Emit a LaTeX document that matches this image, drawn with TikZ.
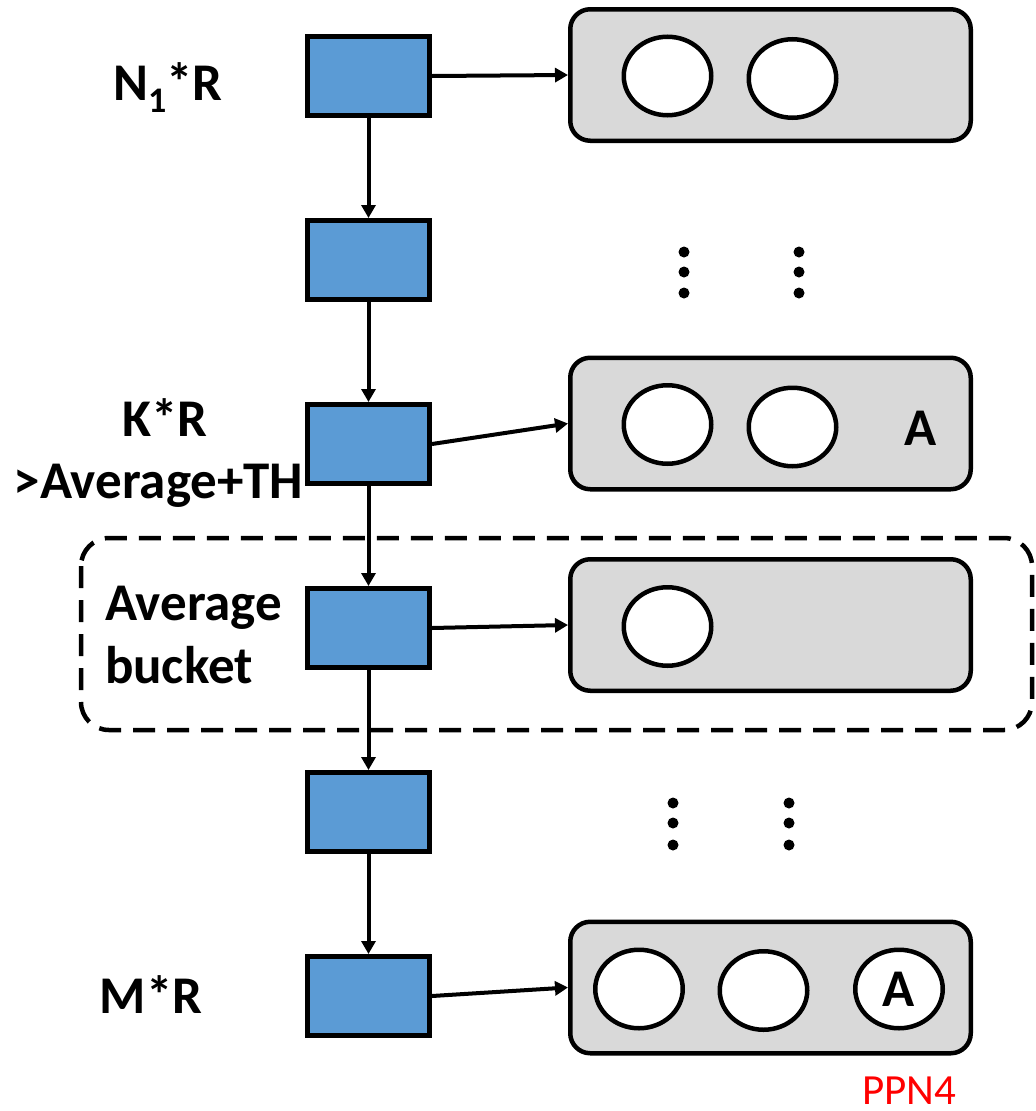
\documentclass[tikz,border=0pt]{standalone}
\usepackage{fontspec}
\setmainfont{Carlito}
\usetikzlibrary{arrows.meta,shapes.geometric,chains,positioning}
\definecolor{bucketblue}{HTML}{5B9BD5}
\definecolor{listgray}{HTML}{D9D9D9}
\tikzset{bucket/.style={draw, line width=5pt, fill=bucketblue, minimum width=122pt, minimum height=79pt, inner sep=0pt, on chain}, slot/.style={draw, line width=4.5pt, fill=listgray, rounded corners=20pt, minimum width=400.5pt, minimum height=131.5pt, inner sep=0pt}, entry/.style={ellipse, draw, line width=4.5pt, fill=white, minimum width=87.5pt, minimum height=78.5pt, inner sep=0pt, font=\fontsize{53}{60}\selectfont\bfseries}, lbl/.style={font=\fontsize{53}{63}\selectfont\bfseries, inner sep=0pt, anchor=base}, >={Triangle[length=13pt,width=14pt]}}

\begin{document}
\begin{tikzpicture}[x=1pt, y=1pt, line width=4pt, start chain=going below, node distance=100pt]
    \useasboundingbox[fill=white] (0,0) rectangle (1036,-1111);
    \node[bucket] (B1) at (368.5,-76) {};
    \node[bucket] (B2) {};
    \node[bucket] (B3) {};
    \node[bucket] (B4) {};
    \node[bucket] (B5) {};
    \node[bucket] (B6) {};
    \draw[line width=4.5pt, dash pattern=on 22pt off 12pt, rounded corners=28pt] (81,-538) rectangle (1032,-730);
    \node[slot] (S1) at (770.5,-75) {};
    \node[slot] (S3) at (770.5,-423.5) {};
    \node[slot] (S4) at (770.5,-625) {};
    \node[slot] (S6) at (770.5,-987.5) {};
    \node[entry] (E11) at (667.5,-76) {};
    \node[entry] (E12) at (792.5,-78.5) {};
    \node[entry] (E31) at (667.5,-424.5) {};
    \node[entry] (E32) at (792.5,-427) {};
    \node[lbl] (A3) at (921,-445) {A};
    \node[entry] (E41) at (667.5,-626.5) {};
    \node[entry] (E61) at (639,-989) {};
    \node[entry] (E62) at (763.5,-990.5) {};
    \node[entry] (E63) at (899,-989) {A};
    \fill (684,-252) circle (5.5) (684,-272) circle (5.5) (684,-293) circle (5.5);
    \fill (799,-252) circle (5.5) (799,-272) circle (5.5) (799,-293) circle (5.5);
    \fill (673,-803) circle (5.5) (673,-823) circle (5.5) (673,-845) circle (5.5);
    \fill (789,-803) circle (5.5) (789,-823) circle (5.5) (789,-845) circle (5.5);
    \draw[->] (B1) -- (B2);
    \draw[->] (B2) -- (B3);
    \draw[->] (B3) -- (B4);
    \draw[->] (B4) -- (B5);
    \draw[->] (B5) -- (B6);
    \draw[->] (B1.east) -- (S1.west);
    \draw[->] (B3.east) -- (S3.west);
    \draw[->] (B4.east) -- (S4.west);
    \draw[->] (B6.east) -- (S6.west);
    \node[lbl] (L1) at (168,-100) {N\raisebox{-12pt}{\fontsize{36}{36}\selectfont 1}*R};
    \node[lbl] (L3) at (165,-436) {K*R};
    \node[lbl] (L3b) at (158.5,-498) {>Average+TH};
    \node[lbl, anchor=base west, align=left] (L4) at (103,-683) {Average\\bucket};
    \node[lbl] (L6) at (151,-1013) {M*R};
    \node[font=\fontsize{43}{50}\selectfont, text=red, inner sep=0pt, anchor=base] (ppn) at (909,-1104) {PPN4};
\end{tikzpicture}
\end{document}
